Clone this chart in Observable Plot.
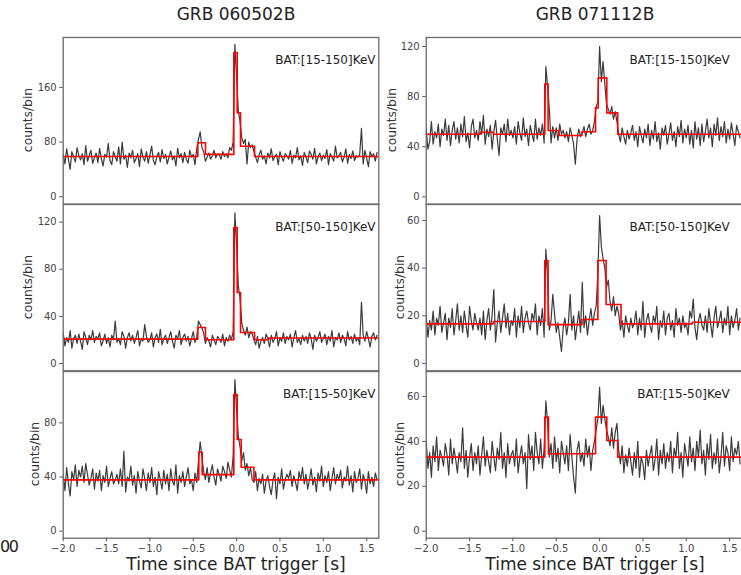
<!DOCTYPE html>
<html>
<head>
<meta charset="utf-8">
<script src="https://cdn.jsdelivr.net/npm/d3@7"></script>
<script src="https://cdn.jsdelivr.net/npm/@observablehq/plot@0.6"></script>
<style>
  body { margin: 0; background: #fff; overflow: hidden; }
  #fig { position: relative; width: 741px; height: 575px; overflow: hidden; font-family: "DejaVu Sans", sans-serif; }
  #fig svg { position: absolute; }
  .lbl { position: absolute; white-space: nowrap; color: #222; }
  .title, .xlabel { font-size: 17px; transform: translate(-50%, -50%); }
  .ylabel { font-size: 12.3px; color: #333; transform: translate(-50%, -50%) rotate(-90deg); }
</style>
</head>
<body>
<div id="fig"></div>
<script>
// Swift/BAT light curves of two short GRBs, three energy bands each.
const grbNames = ["GRB 060502B", "GRB 071112B"];
const bandLabels = ["BAT:[15-150]KeV", "BAT:[50-150]KeV", "BAT:[15-50]KeV"];
const xTicks = [-2.0, -1.5, -1.0, -0.5, 0.0, 0.5, 1.0, 1.5];
const xLabel = "Time since BAT trigger [s]";
const yLabel = "counts/bin";

// binned counts, 20 ms bins starting at -2.0 s
const binStart = -2.0;
const binWidth = 0.02;

const counts060502B_15_150 = [
  62, 48, 70, 55, 40, 66, 58, 51, 72, 60,
  54, 63, 47, 75, 52, 60, 68, 49, 57, 64,
  50, 71, 56, 45, 62, 58, 78, 53, 47, 66,
  59, 52, 73, 48, 80, 55, 61, 43, 64, 57,
  68, 50, 56, 63, 44, 70, 58, 52, 66, 49,
  61, 74, 53, 47, 59, 65, 51, 69, 56, 62,
  48, 58, 67, 54, 60, 45, 71, 57, 63, 50,
  65, 55, 49, 68, 58, 62, 47, 70, 84, 95,
  72, 66, 52, 58, 64, 55, 60, 68, 57, 63,
  61, 55, 66, 59, 63, 57, 72, 68, 80, 223,
  175, 125, 110, 86, 78, 84, 48, 80, 72, 76,
  66, 58, 50, 62, 68, 55, 60, 48, 64, 57,
  70, 53, 59, 62, 47, 66, 58, 52, 63, 60,
  55, 68, 49, 61, 57, 72, 54, 60, 46, 65,
  58, 50, 67, 62, 55, 71, 48, 59, 64, 53,
  61, 56, 69, 47, 63, 58, 52, 74, 57, 60,
  65, 51, 58, 70, 49, 62, 56, 67, 53, 60,
  58, 62, 100, 48, 68, 57, 44, 66, 59, 63,
  52, 65
];
const counts060502B_50_150 = [
  26, 15, 22, 18, 28, 13, 21, 24, 17, 25,
  19, 12, 27, 22, 16, 24, 20, 28, 18, 23,
  21, 26, 15, 19, 25, 17, 22, 14, 24, 20,
  36, 18, 21, 16, 27, 23, 13, 22, 26, 19,
  24, 17, 22, 28, 15, 21, 19, 33, 23, 18,
  20, 26, 14, 22, 25, 18, 29, 16, 21, 24,
  17, 22, 27, 19, 13, 24, 21, 28, 16, 22,
  25, 19, 23, 15, 21, 27, 18, 22, 36, 33,
  30, 26, 17, 22, 19, 14, 24, 20, 16, 23,
  21, 18, 25, 15, 22, 19, 24, 20, 27, 128,
  100, 66, 55, 34, 28, 24, 31, 22, 27, 25,
  20, 16, 23, 13, 19, 22, 17, 25, 21, 14,
  24, 18, 21, 27, 15, 22, 19, 26, 17, 23,
  20, 25, 14, 22, 28, 18, 21, 16, 24, 19,
  23, 17, 26, 21, 12, 24, 19, 22, 27, 18,
  21, 25, 16, 23, 19, 28, 14, 22, 20, 26,
  18, 24, 21, 15, 27, 20, 23, 17, 25, 19,
  22, 16, 52, 24, 19, 27, 21, 14, 23, 26,
  20, 24
];
const counts060502B_15_50 = [
  42, 30, 47, 35, 26, 44, 38, 49, 33, 45,
  40, 48, 36, 50, 42, 34, 39, 46, 31, 43,
  37, 45, 30, 41, 36, 48, 33, 39, 44, 35,
  38, 42, 35, 46, 33, 59, 29, 40, 37, 48,
  34, 41, 28, 44, 37, 32, 46, 39, 30, 43,
  36, 47, 33, 40, 27, 44, 38, 31, 45, 35,
  42, 30, 46, 37, 34, 49, 28, 41, 36, 44,
  33, 40, 47, 35, 38, 30, 43, 36, 52, 66,
  55, 44, 38, 47, 36, 43, 49, 40, 34, 46,
  42, 37, 48, 44, 39, 51, 45, 40, 56, 112,
  90, 70, 62, 52, 58, 45, 50, 41, 47, 38,
  36, 44, 30, 39, 35, 42, 28, 37, 41, 33,
  27, 38, 43, 24, 40, 35, 46, 31, 38, 42,
  39, 45, 33, 41, 36, 30, 44, 38, 47, 35,
  42, 31, 38, 46, 34, 40, 29, 43, 37, 48,
  33, 41, 36, 44, 30, 39, 47, 35, 42, 38,
  45, 32, 40, 37, 48, 34, 41, 29, 44, 36,
  39, 46, 31, 42, 37, 28, 44, 35, 40, 33,
  43, 38
];
const counts071112B_15_150 = [
  55, 38, 44, 60, 42, 52, 47, 58, 40, 54,
  49, 62, 45, 57, 41, 53, 60, 46, 55, 43,
  58, 48, 64, 44, 51, 39, 56, 62, 47, 53,
  45, 60, 50, 65, 42, 54, 48, 57, 38, 52,
  61, 46, 33, 55, 50, 58, 44, 62, 49, 53,
  47, 56, 42, 60, 51, 45, 63, 48, 54, 41,
  57, 50, 44, 62, 46, 55, 49, 58, 43, 104,
  88, 70, 43, 56, 47, 55, 45, 58, 50, 53,
  47, 52, 44, 55, 49, 42, 26, 46, 54, 48,
  51, 56, 48, 54, 58, 50, 53, 60, 72, 76,
  120, 92, 108, 90, 74, 70, 66, 72, 62, 68,
  60, 50, 44, 55, 48, 42, 53, 46, 51, 57,
  45, 52, 40, 56, 49, 43, 54, 47, 58, 41,
  53, 46, 60, 44, 51, 38, 55, 49, 57, 42,
  50, 59, 45, 52, 40, 56, 48, 61, 43, 54,
  47, 57, 42, 53, 39, 60, 46, 55, 41, 58,
  44, 52, 62, 47, 55, 40, 58, 49, 63, 45,
  56, 48, 60, 43, 54, 46, 59, 50, 41, 57,
  52, 47
];
const counts071112B_50_150 = [
  20, 11, 18, 14, 22, 12, 19, 16, 24, 13,
  17, 21, 10, 19, 15, 23, 12, 18, 25, 14,
  20, 13, 22, 16, 11, 24, 18, 14, 21, 17,
  14, 19, 12, 22, 10, 18, 23, 14, 20, 31,
  9, 17, 22, 13, 19, 25, 15, 21, 12, 18,
  16, 23, 11, 20, 15, 24, 13, 19, 22, 17,
  14, 21, 18, 25, 12, 20, 16, 23, 11, 48,
  36, 14, 18, 29, 21, 13, 17, 11, 5, 15,
  19, 12, 17, 29, 14, 20, 10, 16, 22, 13,
  34, 15, 20, 12, 18, 23, 16, 21, 24, 38,
  62, 49, 44, 40, 32, 35, 26, 22, 28, 20,
  24, 21, 14, 18, 11, 20, 16, 13, 19, 15,
  17, 22, 12, 19, 14, 26, 11, 18, 21, 16,
  13, 20, 17, 24, 10, 18, 15, 22, 12, 19,
  21, 14, 18, 11, 23, 16, 19, 13, 20, 15,
  17, 12, 22, 19, 27, 15, 10, 18, 21, 16,
  14, 20, 13, 23, 17, 11, 19, 24, 15, 18,
  22, 13, 19, 16, 24, 12, 20, 15, 18, 23,
  14, 19
];
const counts071112B_15_50 = [
  40, 28, 35, 24, 38, 31, 42, 27, 36, 33,
  29, 39, 34, 25, 41, 30, 37, 32, 26, 35,
  31, 46, 28, 36, 24, 33, 39, 27, 35, 30,
  38, 25, 34, 42, 29, 36, 31, 26, 40, 33,
  27, 37, 32, 44, 28, 35, 24, 39, 30, 34,
  36, 29, 41, 26, 33, 38, 30, 35, 19, 43,
  32, 38, 27, 44, 35, 30, 41, 28, 37, 58,
  48, 33, 39, 28, 42, 31, 37, 26, 40, 35,
  30, 38, 27, 43, 33, 24, 17, 36, 40, 31,
  35, 29, 41, 33, 38, 27, 36, 40, 45, 50,
  64, 48, 56, 50, 45, 42, 38, 46, 37, 44,
  48, 36, 30, 38, 26, 34, 29, 37, 31, 25,
  35, 28, 40, 24, 33, 30, 23, 36, 29, 34,
  38, 27, 32, 41, 25, 36, 30, 39, 28, 35,
  31, 40, 26, 37, 33, 44, 28, 35, 24, 39,
  34, 29, 42, 31, 37, 27, 40, 33, 45, 30,
  36, 25, 39, 32, 43, 28, 35, 30, 41, 26,
  33, 44, 29, 38, 35, 27, 42, 31, 37, 34,
  40, 30
];

// Bayesian-block representation: block edges (s) and block levels (counts/bin)
const blockEdges060502B_15_150 = [-2.0, -0.447, -0.359, -0.032, 0.007, 0.045, 0.207, 1.64];
const blockLevels060502B_15_150 = [59, 79, 62, 211, 123, 74, 59];
const blockEdges060502B_50_150 = [-2.0, -0.447, -0.359, -0.032, 0.007, 0.045, 0.207, 0.371, 1.64];
const blockLevels060502B_50_150 = [20.7, 30.6, 20.1, 115.5, 60.3, 26.3, 20.1, 21.6];
const blockEdges060502B_15_50 = [-2.0, -0.436, -0.397, -0.032, 0.007, 0.053, 0.2, 1.64];
const blockLevels060502B_15_50 = [37.9, 58.3, 41.8, 100.9, 67.7, 47.2, 37.9];
const blockEdges071112B_15_150 = [-2.0, -1.377, -1.225, -0.632, -0.594, -0.468, -0.204, -0.047, -0.016, 0.083, 0.209, 1.64];
const blockLevels071112B_15_150 = [50, 51.5, 50, 90, 53, 49, 52, 71, 95, 67, 50];
const blockEdges071112B_50_150 = [-2.0, -1.225, -0.632, -0.594, -0.204, -0.02, 0.075, 0.247, 1.069, 1.64];
const blockLevels071112B_50_150 = [16.6, 17.6, 43.2, 16.3, 18.4, 43.2, 24.7, 16.6, 17.3];
const blockEdges071112B_15_50 = [-2.0, -0.632, -0.59, -0.047, 0.083, 0.209, 1.64];
const blockLevels071112B_15_50 = [33, 50.8, 34.5, 50.8, 40.4, 33];

// per-panel y axis ticks
const yTicks = [
  [[0, 80, 160], [0, 40, 80, 120], [0, 40, 80]],
  [[0, 40, 80, 120], [0, 20, 40, 60], [0, 20, 40, 60]]
];

// ---- layout ----
const fig = document.getElementById("fig");
const xDomain = [-2.0, 1.64];
const frameW = 315.6;
const colSvgLeft = [0, 380];
const colMarginLeft = [62.7, 45.7];
const rowTop = [36.7, 204, 371];
const rowH = [166.6, 166.3, 166.7];
const yDomains = [
  [[-10.7, 233], [-6.2, 135], [-5.2, 118]],
  [[-5.8, 127.2], [-3.1, 66.7], [-3.1, 71.1]]
];
const bandDx = [-3.3, -12];
const yLabelX = [[28, 28, 35], [392, 400, 400]];
const font = "DejaVu Sans, sans-serif";

const panelData = [
  [
    [counts060502B_15_150, blockEdges060502B_15_150, blockLevels060502B_15_150],
    [counts060502B_50_150, blockEdges060502B_50_150, blockLevels060502B_50_150],
    [counts060502B_15_50, blockEdges060502B_15_50, blockLevels060502B_15_50]
  ],
  [
    [counts071112B_15_150, blockEdges071112B_15_150, blockLevels071112B_15_150],
    [counts071112B_50_150, blockEdges071112B_50_150, blockLevels071112B_50_150],
    [counts071112B_15_50, blockEdges071112B_15_50, blockLevels071112B_15_50]
  ]
];

const fmtX = d3.format(".1f");

for (let col = 0; col < 2; col++) {
  for (let row = 0; row < 3; row++) {
    const [counts, edges, levels] = panelData[col][row];
    const lc = counts.map((c, i) => ({t: binStart + i * binWidth, c}));
    const blocks = edges.map((e, i) => ({t: e, c: levels[Math.min(i, levels.length - 1)]}));
    const bottom = row === 2;
    const mt = 8, mb = bottom ? 30 : 8, mr = 4;
    const ml = colMarginLeft[col];
    const ticksY = yTicks[col][row];

    const svg = Plot.plot({
      width: ml + frameW + mr,
      height: mt + rowH[row] + mb,
      marginLeft: ml, marginRight: mr, marginTop: mt, marginBottom: mb,
      x: {domain: xDomain, axis: null},
      y: {domain: yDomains[col][row], axis: null},
      style: {background: "transparent", overflow: "visible", fontFamily: font, fontSize: "10px", color: "#444"},
      marks: [
        Plot.lineY(lc, {x: "t", y: "c", stroke: "#262626", strokeWidth: 1.2, strokeOpacity: 0.9, clip: true}),
        Plot.line(blocks, {x: "t", y: "c", curve: "step-after", stroke: "#ff0000", strokeWidth: 1.6, clip: true}),
        Plot.frame({stroke: "#6a6a6a", strokeWidth: 1.3}),
        Plot.axisY({ticks: ticksY, tickSize: 3.5, tickPadding: 3, label: null, stroke: "#555", fill: "#444"}),
        bottom ? Plot.axisX({ticks: xTicks, tickSize: 3.5, tickPadding: 3, label: null, tickFormat: fmtX, stroke: "#555", fill: "#444"}) : null,
        Plot.text([bandLabels[row]], {
          frameAnchor: "top-right", textAnchor: "end", lineAnchor: "middle",
          dx: bandDx[col], dy: 22.5, fontSize: 12, fill: "#222"
        })
      ]
    });
    svg.style.left = colSvgLeft[col] + "px";
    svg.style.top = (rowTop[row] - mt) + "px";
    fig.appendChild(svg);

    const yl = document.createElement("div");
    yl.className = "lbl ylabel";
    yl.textContent = yLabel;
    yl.style.left = yLabelX[col][row] + "px";
    yl.style.top = (rowTop[row] + rowH[row] / 2) + "px";
    fig.appendChild(yl);
  }
}

// column titles and shared x labels
const colCenter = [236, 595];
for (let col = 0; col < 2; col++) {
  const tt = document.createElement("div");
  tt.className = "lbl title";
  tt.textContent = grbNames[col];
  tt.style.left = colCenter[col] + "px";
  tt.style.top = "14px";
  fig.appendChild(tt);

  const xl = document.createElement("div");
  xl.className = "lbl xlabel";
  xl.textContent = xLabel;
  xl.style.left = colCenter[col] + "px";
  xl.style.top = "564px";
  fig.appendChild(xl);
}

// small label at the lower-left edge
const frag = document.createElement("div");
frag.className = "lbl";
frag.style.cssText = "left:0px;top:537px;font-size:16px;letter-spacing:-1.5px;";
frag.textContent = "00";
fig.appendChild(frag);
</script>
</body>
</html>
